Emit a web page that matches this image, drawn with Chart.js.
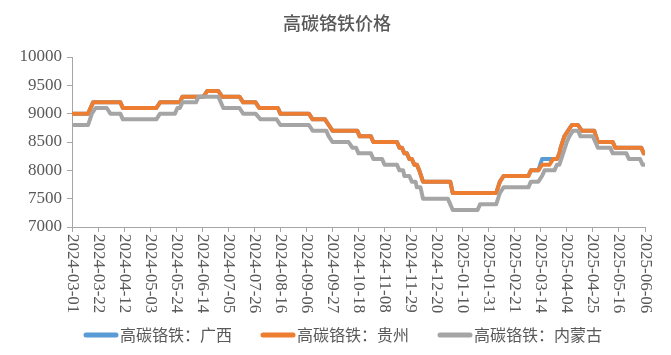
<!DOCTYPE html>
<html><head><meta charset="utf-8">
<script src="https://cdn.jsdelivr.net/npm/chart.js@4.4.1/dist/chart.umd.min.js"></script>
<style>html,body{margin:0;padding:0;background:#fff;}#wrap{width:671px;height:355px;}</style>
</head><body><div id="wrap"><canvas id="c" width="671" height="355"></canvas></div>
<script>
const chartTitle = '高碳铬铁价格';
const seriesNames = ['高碳铬铁：广西', '高碳铬铁：贵州', '高碳铬铁：内蒙古'];
const startDate = '2024-03-01';
const endDate = '2025-06-06';
const xTickLabels = ['2024-03-01','2024-03-22','2024-04-12','2024-05-03','2024-05-24','2024-06-14','2024-07-05','2024-07-26','2024-08-16','2024-09-06','2024-09-27','2024-10-18','2024-11-08','2024-11-29','2024-12-20','2025-01-10','2025-01-31','2025-02-21','2025-03-14','2025-04-04','2025-04-25','2025-05-16','2025-06-06'];
const yTicks = [7000, 7500, 8000, 8500, 9000, 9500, 10000];

const guizhouDates = ['2024-03-01','2024-03-14','2024-03-18','2024-04-09','2024-04-11','2024-05-08','2024-05-11','2024-05-27','2024-05-29','2024-06-15','2024-06-18','2024-06-27','2024-06-30','2024-07-14','2024-07-17','2024-07-27','2024-07-30','2024-08-14','2024-08-16','2024-09-08','2024-09-11','2024-09-21','2024-09-24','2024-09-27','2024-10-17','2024-10-19','2024-10-28','2024-10-30','2024-11-18','2024-11-20','2024-11-22','2024-11-24','2024-11-26','2024-11-28','2024-11-30','2024-12-02','2024-12-04','2024-12-06','2024-12-09','2024-12-31','2025-01-02','2025-02-06','2025-02-09','2025-02-12','2025-03-04','2025-03-06','2025-03-12','2025-03-15','2025-03-21','2025-03-24','2025-03-27','2025-03-29','2025-03-30','2025-04-02','2025-04-05','2025-04-08','2025-04-13','2025-04-16','2025-04-26','2025-04-29','2025-05-11','2025-05-13','2025-06-03','2025-06-05','2025-06-06'];
const guizhouValues = [9000,9000,9200,9200,9100,9100,9200,9200,9300,9300,9400,9400,9300,9300,9200,9200,9100,9100,9000,9000,8900,8900,8800,8700,8700,8600,8600,8500,8500,8400,8400,8300,8300,8200,8200,8100,8100,8000,7800,7800,7600,7600,7800,7900,7900,8000,8000,8100,8100,8200,8200,8300,8400,8600,8700,8800,8800,8700,8700,8500,8500,8400,8400,8300,8300];

const guangxiDates = ['2024-03-01','2024-03-14','2024-03-18','2024-04-09','2024-04-11','2024-05-08','2024-05-11','2024-05-27','2024-05-29','2024-06-15','2024-06-18','2024-06-27','2024-06-30','2024-07-14','2024-07-17','2024-07-27','2024-07-30','2024-08-14','2024-08-16','2024-09-08','2024-09-11','2024-09-21','2024-09-24','2024-09-27','2024-10-17','2024-10-19','2024-10-28','2024-10-30','2024-11-18','2024-11-20','2024-11-22','2024-11-24','2024-11-26','2024-11-28','2024-11-30','2024-12-02','2024-12-04','2024-12-06','2024-12-09','2024-12-31','2025-01-02','2025-02-06','2025-02-09','2025-02-12','2025-03-04','2025-03-06','2025-03-12','2025-03-15','2025-03-27','2025-03-29','2025-03-30','2025-04-02','2025-04-05','2025-04-08','2025-04-13','2025-04-16','2025-04-26','2025-04-29','2025-05-11','2025-05-13','2025-06-03','2025-06-05','2025-06-06'];
const guangxiValues = [9000,9000,9200,9200,9100,9100,9200,9200,9300,9300,9400,9400,9300,9300,9200,9200,9100,9100,9000,9000,8900,8900,8800,8700,8700,8600,8600,8500,8500,8400,8400,8300,8300,8200,8200,8100,8100,8000,7800,7800,7600,7600,7800,7900,7900,8000,8000,8200,8200,8300,8400,8600,8700,8800,8800,8700,8700,8500,8500,8400,8400,8300,8300];

const neimengDates = ['2024-03-01','2024-03-14','2024-03-17','2024-03-20','2024-03-29','2024-04-01','2024-04-09','2024-04-11','2024-05-08','2024-05-11','2024-05-23','2024-05-25','2024-05-27','2024-05-29','2024-06-09','2024-06-11','2024-06-27','2024-07-01','2024-07-14','2024-07-17','2024-07-27','2024-07-31','2024-08-13','2024-08-16','2024-09-08','2024-09-11','2024-09-22','2024-09-24','2024-09-27','2024-10-10','2024-10-13','2024-10-16','2024-10-18','2024-10-28','2024-10-30','2024-11-06','2024-11-08','2024-11-18','2024-11-20','2024-11-23','2024-11-24','2024-11-28','2024-11-30','2024-12-03','2024-12-04','2024-12-07','2024-12-09','2024-12-29','2025-01-02','2025-01-22','2025-01-24','2025-02-06','2025-02-09','2025-02-12','2025-03-04','2025-03-06','2025-03-12','2025-03-15','2025-03-17','2025-03-25','2025-03-27','2025-03-29','2025-04-01','2025-04-04','2025-04-06','2025-04-09','2025-04-13','2025-04-15','2025-04-25','2025-04-29','2025-05-09','2025-05-11','2025-05-22','2025-05-24','2025-06-02','2025-06-04','2025-06-06'];
const neimengValues = [8800,8800,9000,9100,9100,9000,9000,8900,8900,9000,9000,9100,9100,9200,9200,9300,9300,9100,9100,9000,9000,8900,8900,8800,8800,8700,8700,8600,8500,8500,8400,8400,8300,8300,8200,8200,8100,8100,8000,8000,7900,7900,7800,7800,7700,7700,7500,7500,7300,7300,7400,7400,7600,7700,7700,7800,7800,7900,8000,8000,8100,8100,8300,8500,8600,8700,8700,8600,8600,8400,8400,8300,8300,8200,8200,8100,8100];

const colors = ['#5B9BD5', '#ED7D31', '#A5A5A5'];
const textColor = '#595959';
const axisColor = '#A6A6A6';
const serifFamily = '"Liberation Serif", "Times New Roman", serif';

function dayIndex(s) {
  return Math.round((Date.parse(s + 'T00:00:00Z') - Date.parse(startDate + 'T00:00:00Z')) / 86400000);
}
function toPoints(dates, values) {
  return dates.map((d, i) => ({ x: dayIndex(d), y: values[i] }));
}

const overlay = {
  id: 'overlay',
  afterDraw(chart) {
    const ctx = chart.ctx;
    const xs = chart.scales.x;
    const area = chart.chartArea;
    ctx.save();
    // title
    ctx.fillStyle = textColor;
    ctx.font = '500 18px "Noto Sans CJK SC"';
    ctx.textAlign = 'center';
    ctx.textBaseline = 'middle';
    ctx.fillText(chartTitle, 337, 23);
    // x tick labels rotated clockwise
    ctx.font = '17px ' + serifFamily;
    ctx.textAlign = 'left';
    ctx.textBaseline = 'middle';
    xTickLabels.forEach(lbl => {
      const x = xs.getPixelForValue(dayIndex(lbl));
      ctx.save();
      ctx.translate(x, area.bottom + 7);
      ctx.rotate(Math.PI / 2);
      ctx.fillText(lbl, 0, 0);
      ctx.restore();
    });
    // legend
    const legendX = [84, 261, 438];
    const ly = 335;
    ctx.font = '16px "Noto Sans CJK SC"';
    ctx.textBaseline = 'middle';
    seriesNames.forEach((name, i) => {
      ctx.strokeStyle = colors[i];
      ctx.lineWidth = 5;
      ctx.lineCap = 'round';
      ctx.beginPath();
      ctx.moveTo(legendX[i] + 2, ly);
      ctx.lineTo(legendX[i] + 32, ly);
      ctx.stroke();
      ctx.fillStyle = textColor;
      ctx.fillText(name, legendX[i] + 36, ly);
    });
    ctx.restore();
  }
};

new Chart(document.getElementById('c'), {
  type: 'line',
  data: {
    datasets: [
      { label: seriesNames[0], data: toPoints(guangxiDates, guangxiValues), borderColor: colors[0], backgroundColor: colors[0], order: 3 },
      { label: seriesNames[1], data: toPoints(guizhouDates, guizhouValues), borderColor: colors[1], backgroundColor: colors[1], order: 2 },
      { label: seriesNames[2], data: toPoints(neimengDates, neimengValues), borderColor: colors[2], backgroundColor: colors[2], order: 1 }
    ]
  },
  options: {
    responsive: false,
    animation: false,
    devicePixelRatio: 1,
    layout: { padding: { top: 57, right: 26, bottom: 0, left: 0 } },
    elements: {
      point: { radius: 0, hoverRadius: 0 },
      line: { borderWidth: 4, tension: 0, borderCapStyle: 'round', borderJoinStyle: 'round' }
    },
    plugins: { legend: { display: false }, title: { display: false }, tooltip: { enabled: false } },
    scales: {
      x: {
        type: 'linear',
        min: dayIndex(startDate),
        max: dayIndex(endDate),
        afterBuildTicks(scale) { scale.ticks = xTickLabels.map(l => ({ value: dayIndex(l) })); },
        afterFit(scale) { scale.height = 128; },
        ticks: { display: false },
        grid: { drawOnChartArea: false, drawTicks: true, tickLength: 5, color: axisColor, lineWidth: 1 },
        border: { display: true, color: axisColor, width: 1 }
      },
      y: {
        min: 7000,
        max: 10000,
        afterBuildTicks(scale) { scale.ticks = yTicks.map(v => ({ value: v })); },
        afterFit(scale) { scale.width = 72; },
        ticks: { color: textColor, padding: 5, font: { family: serifFamily, size: 17 }, callback: v => String(v) },
        grid: { drawOnChartArea: false, drawTicks: true, tickLength: 5, color: axisColor, lineWidth: 1 },
        border: { display: true, color: axisColor, width: 1 }
      }
    }
  },
  plugins: [overlay]
});
</script>
</body></html>
